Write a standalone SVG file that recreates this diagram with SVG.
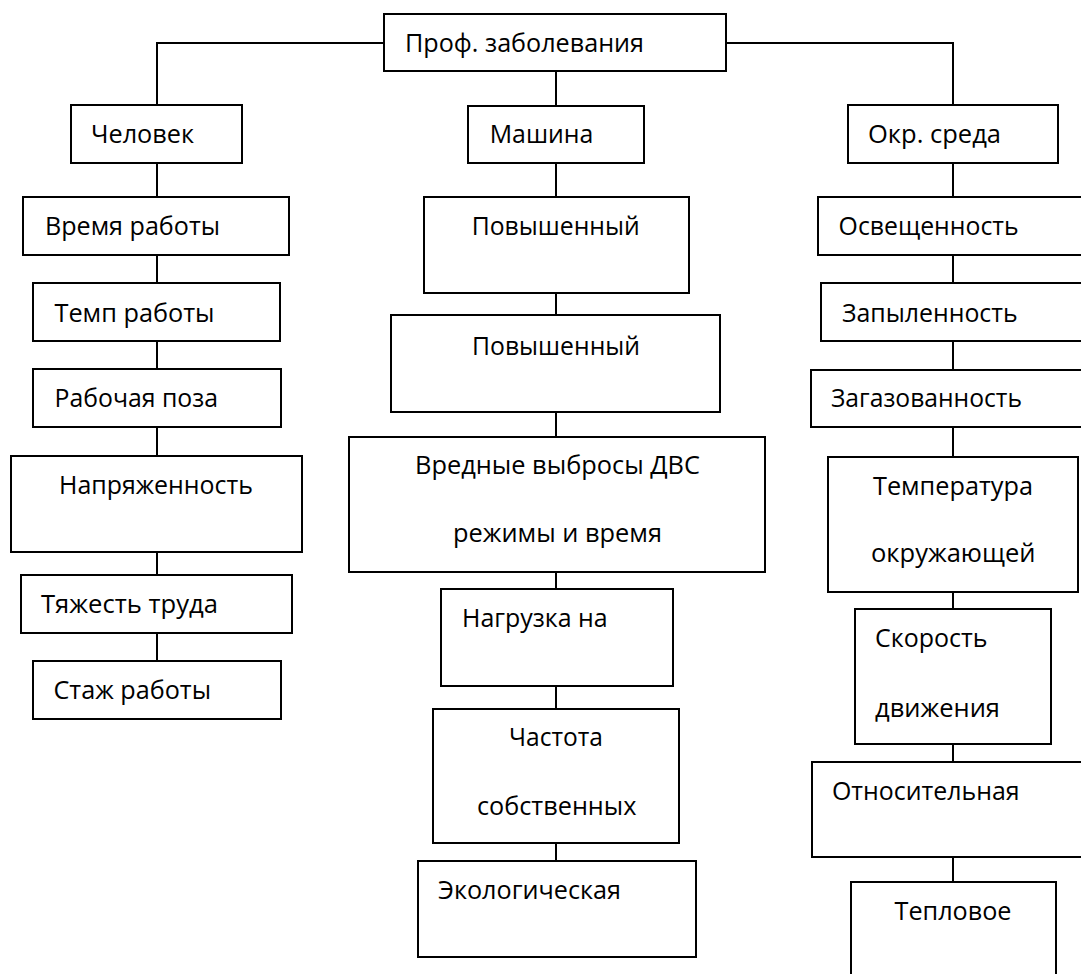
<svg xmlns="http://www.w3.org/2000/svg" width="1081" height="974" viewBox="0 0 1081 974">
<style>
rect, path.box { fill: #fff; stroke: #000; stroke-width: 2; }
.c { fill: none; stroke: #000; stroke-width: 2; }
text { font-family: "Open Sans", "Noto Sans", "DejaVu Sans", sans-serif; font-size: 25px; fill: #000; }
</style>
<rect x="0" y="0" width="1081" height="974" style="fill:#fff;stroke:none"/>
<g id="connectors">
<path class="c" d="M384,43 H157 V105"/>
<path class="c" d="M726,43 H953 V105"/>
<path class="c" d="M556,71 V106 M556,163 V197 M556,293 V315 M556,412 V437 M556,572 V589 M556,686 V709 M556,843 V861"/>
<path class="c" d="M157,163 V197 M157,255 V283 M157,341 V369 M157,427 V456 M157,552 V575 M157,633 V661"/>
<path class="c" d="M953,163 V197 M953,255 V283 M953,341 V370 M953,427 V457 M953,592 V609 M953,744 V762 M953,857 V882"/>
</g>
<g id="n-root"><rect x="384" y="14" width="342" height="57"/><text x="405" y="52" textLength="239" lengthAdjust="spacingAndGlyphs">Проф. заболевания</text></g>
<g id="n-chelovek"><rect x="71" y="105" width="171" height="58"/><text x="91" y="143" textLength="103" lengthAdjust="spacingAndGlyphs">Человек</text></g>
<g id="n-vremya"><rect x="23" y="197" width="266" height="58"/><text x="45" y="235" textLength="175" lengthAdjust="spacingAndGlyphs">Время работы</text></g>
<g id="n-temp"><rect x="33" y="283" width="247" height="58"/><text x="54.5" y="322" textLength="160" lengthAdjust="spacingAndGlyphs">Темп работы</text></g>
<g id="n-poza"><rect x="33" y="369" width="248" height="58"/><text x="54.5" y="407" textLength="163.5" lengthAdjust="spacingAndGlyphs">Рабочая поза</text></g>
<g id="n-napr"><rect x="11" y="456" width="291" height="96"/><text x="59" y="494" textLength="194" lengthAdjust="spacingAndGlyphs">Напряженность</text></g>
<g id="n-tyazh"><rect x="21" y="575" width="271" height="58"/><text x="41" y="613" textLength="177" lengthAdjust="spacingAndGlyphs">Тяжесть труда</text></g>
<g id="n-stazh"><rect x="33" y="661" width="248" height="58"/><text x="53.5" y="699" textLength="157.5" lengthAdjust="spacingAndGlyphs">Стаж работы</text></g>
<g id="n-mashina"><rect x="468" y="106" width="176" height="57"/><text x="489.7" y="143" textLength="103.7" lengthAdjust="spacingAndGlyphs">Машина</text></g>
<g id="n-pov1"><rect x="424" y="197" width="265" height="96"/><text x="471.7" y="235" textLength="168" lengthAdjust="spacingAndGlyphs">Повышенный</text></g>
<g id="n-pov2"><rect x="391" y="315" width="329" height="97"/><text x="472" y="355" textLength="168" lengthAdjust="spacingAndGlyphs">Повышенный</text></g>
<g id="n-vrednye"><rect x="349" y="437" width="416" height="135"/><text x="415" y="474" textLength="285" lengthAdjust="spacingAndGlyphs">Вредные выбросы ДВС</text><text x="453" y="542" textLength="209" lengthAdjust="spacingAndGlyphs">режимы и время</text></g>
<g id="n-nagruzka"><rect x="441" y="589" width="232" height="97"/><text x="462" y="627" textLength="145.6" lengthAdjust="spacingAndGlyphs">Нагрузка на</text></g>
<g id="n-chastota"><rect x="433" y="709" width="246" height="134"/><text x="509" y="746" textLength="94" lengthAdjust="spacingAndGlyphs">Частота</text><text x="477" y="815" textLength="159.4" lengthAdjust="spacingAndGlyphs">собственных</text></g>
<g id="n-eko"><rect x="418" y="861" width="278" height="96"/><text x="438" y="899" textLength="183" lengthAdjust="spacingAndGlyphs">Экологическая</text></g>
<g id="n-okr"><rect x="848" y="105" width="210" height="58"/><text x="868" y="143" textLength="133" lengthAdjust="spacingAndGlyphs">Окр. среда</text></g>
<g id="n-osv"><rect x="818" y="197" width="280" height="58"/><text x="838.6" y="235" textLength="180" lengthAdjust="spacingAndGlyphs">Освещенность</text></g>
<g id="n-zapyl"><rect x="821" y="283" width="280" height="58"/><text x="842" y="322" textLength="175.6" lengthAdjust="spacingAndGlyphs">Запыленность</text></g>
<g id="n-zagaz"><rect x="811" y="370" width="290" height="57"/><text x="831" y="407" textLength="191" lengthAdjust="spacingAndGlyphs">Загазованность</text></g>
<g id="n-temperatura"><rect x="828" y="457" width="250" height="135"/><text x="873" y="495" textLength="160" lengthAdjust="spacingAndGlyphs">Температура</text><text x="871" y="562" textLength="164.5" lengthAdjust="spacingAndGlyphs">окружающей</text></g>
<g id="n-skorost"><rect x="855" y="609" width="196" height="135"/><text x="875" y="647" textLength="112.5" lengthAdjust="spacingAndGlyphs">Скорость</text><text x="875" y="716.5" textLength="125" lengthAdjust="spacingAndGlyphs">движения</text></g>
<g id="n-otnos"><rect x="812" y="762" width="290" height="95"/><text x="832" y="799.5" textLength="187.6" lengthAdjust="spacingAndGlyphs">Относительная</text></g>
<g id="n-teplovoe"><rect x="851" y="882" width="205" height="120"/><text x="894.5" y="920" textLength="117" lengthAdjust="spacingAndGlyphs">Тепловое</text></g>
</svg>
